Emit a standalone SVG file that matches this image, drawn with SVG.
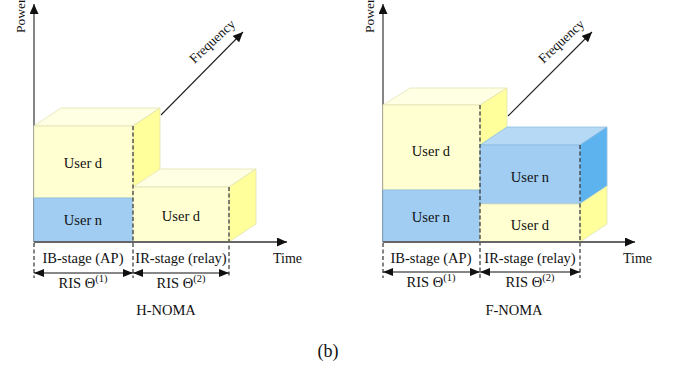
<svg xmlns="http://www.w3.org/2000/svg" width="673" height="369" viewBox="0 0 673 369">
<defs>
<style>
text{font-family:"Liberation Serif","Times New Roman",serif;fill:#111;}
.lbl{font-size:14.5px;text-anchor:middle;}
.ax{font-size:13.5px;}
.cap{font-size:14.5px;text-anchor:middle;}
.yf{fill:#FFFFD2;stroke:#E2E2B4;stroke-width:0.8;}
.yt{fill:#FFFFE3;stroke:#E2E2B4;stroke-width:0.8;}
.yr{fill:#FFFF9C;stroke:#E2E2B4;stroke-width:0.8;}
.bf{fill:#A0CDF1;stroke:#8DBCE2;stroke-width:0.8;}
.bt{fill:#B6DAF6;stroke:#8DBCE2;stroke-width:0.8;}
.br{fill:#5DB3EE;stroke:#8DBCE2;stroke-width:0.8;}
.dash{stroke:#333;stroke-width:1.2;stroke-dasharray:4 2.5;fill:none;}
.axis{stroke:#222;stroke-width:1.1;fill:none;}
.time{stroke:#666;stroke-width:1.8;fill:none;}
.dbl{stroke:#111;stroke-width:1.2;fill:none;marker-start:url(#ah);marker-end:url(#ah);}
</style>
<marker id="ah" viewBox="0 0 10 8" refX="10" refY="4" markerWidth="10" markerHeight="8" markerUnits="userSpaceOnUse" orient="auto-start-reverse">
<path d="M0,0 L10,4 L0,8 Z" fill="#111"/>
</marker>
<marker id="ax" viewBox="0 0 10 9" refX="10" refY="4.5" markerWidth="10" markerHeight="9" markerUnits="userSpaceOnUse" orient="auto">
<path d="M0,0 L10,4.5 L0,9 Z" fill="#111"/>
</marker>
</defs>

<!-- Left panel: H-NOMA -->
<g id="h-axes">
<line class="axis" x1="34" y1="242" x2="34" y2="4" marker-end="url(#ax)"/>
<text class="ax" transform="translate(25,33) rotate(-90)">Power</text>
<line class="axis" x1="161" y1="115" x2="243" y2="32" marker-end="url(#ax)"/>
<text class="ax" text-anchor="middle" transform="translate(212,41) rotate(-43)" dy="0.35em">Frequency</text>
</g>
<g id="h-box1">
<polygon class="yt" points="34,126 133,126 160,108 61,108"/>
<polygon class="yr" points="133,126 160,108 160,224 133,242"/>
<rect class="yf" x="34" y="126" width="99" height="72"/>
<rect class="bf" x="34" y="198" width="99" height="44"/>
<text class="lbl" x="83" y="168">User d</text>
<text class="lbl" x="83" y="225">User n</text>
</g>
<g id="h-box2">
<polygon class="yt" points="133,187 229,187 256,169 160,169"/>
<polygon class="yr" points="229,187 256,169 256,224 229,242"/>
<rect class="yf" x="133" y="187" width="96" height="55"/>
<text class="lbl" x="181" y="221">User d</text>
</g>
<g id="h-connectors">
<line class="dash" x1="133" y1="126" x2="133" y2="278"/>
<line class="dash" x1="34" y1="243" x2="34" y2="278"/>
<line class="dash" x1="229" y1="187" x2="229" y2="278"/>
<line class="time" x1="34" y1="242" x2="287" y2="242" marker-end="url(#ax)"/>
<line class="dbl" x1="34" y1="273" x2="133" y2="273"/>
<line class="dbl" x1="133" y1="273" x2="229" y2="273"/>
</g>
<g id="h-labels">
<text class="ax" x="273" y="263" style="font-size:14px">Time</text>
<text class="lbl" x="83" y="263">IB-stage (AP)</text>
<text class="lbl" x="181" y="263">IR-stage (relay)</text>
<text class="lbl" x="83" y="288">RIS Θ<tspan dy="-6" font-size="10.5">(1)</tspan></text>
<text class="lbl" x="181" y="288">RIS Θ<tspan dy="-6" font-size="10.5">(2)</tspan></text>
<text class="cap" x="166" y="315">H-NOMA</text>
</g>

<!-- Right panel: F-NOMA -->
<g id="f-axes">
<line class="axis" x1="383" y1="242" x2="383" y2="4" marker-end="url(#ax)"/>
<text class="ax" transform="translate(374,33) rotate(-90)">Power</text>
<line class="axis" x1="508" y1="116" x2="592" y2="32" marker-end="url(#ax)"/>
<text class="ax" text-anchor="middle" transform="translate(561,41) rotate(-43)" dy="0.35em">Frequency</text>
</g>
<g id="f-box1">
<polygon class="yt" points="383,105 480,105 507,88 410,88"/>
<polygon class="yr" points="480,105 507,88 507,225 480,242"/>
<rect class="yf" x="383" y="105" width="97" height="85"/>
<rect class="bf" x="383" y="190" width="97" height="52"/>
<text class="lbl" x="431" y="156">User d</text>
<text class="lbl" x="431" y="222">User n</text>
</g>
<g id="f-box2">
<polygon class="bt" points="480,145 580,145 607,127 507,127"/>
<polygon class="br" points="580,145 607,127 607,186 580,204"/>
<polygon class="yr" points="580,204 607,186 607,224 580,242"/>
<rect class="bf" x="480" y="145" width="100" height="59"/>
<rect class="yf" x="480" y="204" width="100" height="38"/>
<text class="lbl" x="530" y="182">User n</text>
<text class="lbl" x="530" y="230">User d</text>
</g>
<g id="f-connectors">
<line class="dash" x1="480" y1="105" x2="480" y2="278"/>
<line class="dash" x1="383" y1="243" x2="383" y2="278"/>
<line class="dash" x1="580" y1="145" x2="580" y2="278"/>
<line class="time" x1="383" y1="242" x2="635" y2="242" marker-end="url(#ax)"/>
<line class="dbl" x1="383" y1="272" x2="480" y2="272"/>
<line class="dbl" x1="480" y1="272" x2="580" y2="272"/>
</g>
<g id="f-labels">
<text class="ax" x="623" y="263" style="font-size:14px">Time</text>
<text class="lbl" x="431" y="263">IB-stage (AP)</text>
<text class="lbl" x="530" y="263">IR-stage (relay)</text>
<text class="lbl" x="431" y="287">RIS Θ<tspan dy="-6" font-size="10.5">(1)</tspan></text>
<text class="lbl" x="530" y="287">RIS Θ<tspan dy="-6" font-size="10.5">(2)</tspan></text>
<text class="cap" x="514" y="315">F-NOMA</text>
</g>

<text x="328" y="357" style="font-size:18px;text-anchor:middle">(b)</text>
</svg>
